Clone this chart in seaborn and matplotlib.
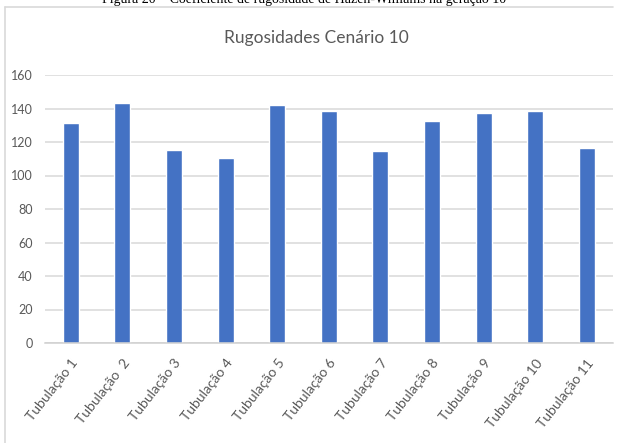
import matplotlib
matplotlib.use("Agg")
import matplotlib.pyplot as plt
import seaborn as sns
import pandas as pd
from matplotlib.lines import Line2D

# Hazen-Williams roughness per pipe, scenario 10
tubulacoes = ["Tubulação 1", "Tubulação  2", "Tubulação 3", "Tubulação 4",
              "Tubulação 5", "Tubulação 6", "Tubulação 7", "Tubulação 8",
              "Tubulação 9", "Tubulação 10", "Tubulação 11"]
rugosidades = [131.5, 143.0, 115.5, 110.5, 142.0, 138.3,
               114.8, 132.8, 137.2, 138.8, 116.2]
y_ticks = [0, 20, 40, 60, 80, 100, 120, 140, 160]

titulo = "Rugosidades Cenário 10"
legenda_figura = "Figura 20 \u2013 Coeficiente de rugosidade de Hazen-Williams na geração 10"

W, H = 617, 443
sns.set_theme(style="white")
plt.rcParams["font.family"] = ["Lato", "DejaVu Sans"]

fig = plt.figure(figsize=(W / 100, H / 100), dpi=100)
fig.patch.set_facecolor("white")

left, right, bottom, top = 45, 612.5, 343, 75
ax = fig.add_axes([left / W, 1 - bottom / H, (right - left) / W, (bottom - top) / H])

df = pd.DataFrame({"tubulacao": tubulacoes, "rugosidade": rugosidades})
sns.barplot(data=df, x="tubulacao", y="rugosidade", color="#4472C4",
            saturation=1, width=0.31, ax=ax)

ax.set_ylim(0, 160)
ax.set_xlim(-0.5, len(tubulacoes) - 0.5)
ax.set_yticks(y_ticks)
ax.set_yticklabels([str(v) for v in y_ticks])
ax.yaxis.grid(True, color="#d9d9d9", linewidth=1.1)
ax.set_axisbelow(True)
for s in ["left", "right", "top"]:
    ax.spines[s].set_visible(False)
ax.spines["bottom"].set_color("#d0d0d0")
ax.spines["bottom"].set_linewidth(1.1)

ax.set_xlabel("")
ax.set_ylabel("")
ax.tick_params(axis="y", length=0, pad=9, labelsize=9, labelcolor="#595959")
ax.tick_params(axis="x", length=0, pad=10, labelsize=10, labelcolor="#595959")
plt.setp(ax.get_xticklabels(), rotation=52, ha="right", rotation_mode="anchor")

fig.text(316 / W, 1 - 38 / H, titulo, ha="center", va="center",
         fontsize=12.5, color="#595959")

# chart frame (top and left edges)
fig.add_artist(Line2D([4.5 / W, 613 / W], [1 - 6.5 / H, 1 - 6.5 / H],
                      transform=fig.transFigure, color="#d9d9d9", linewidth=1.2))
fig.add_artist(Line2D([4.5 / W, 4.5 / W], [0, 1 - 6.5 / H],
                      transform=fig.transFigure, color="#d9d9d9", linewidth=1.2))

# figure caption above the frame
fig.text(304 / W, 1 - 3 / H, legenda_figura, ha="center", va="baseline",
         fontsize=10, family=["Liberation Serif"], color="black")

fig.savefig("out.png", dpi=100, facecolor="white")
